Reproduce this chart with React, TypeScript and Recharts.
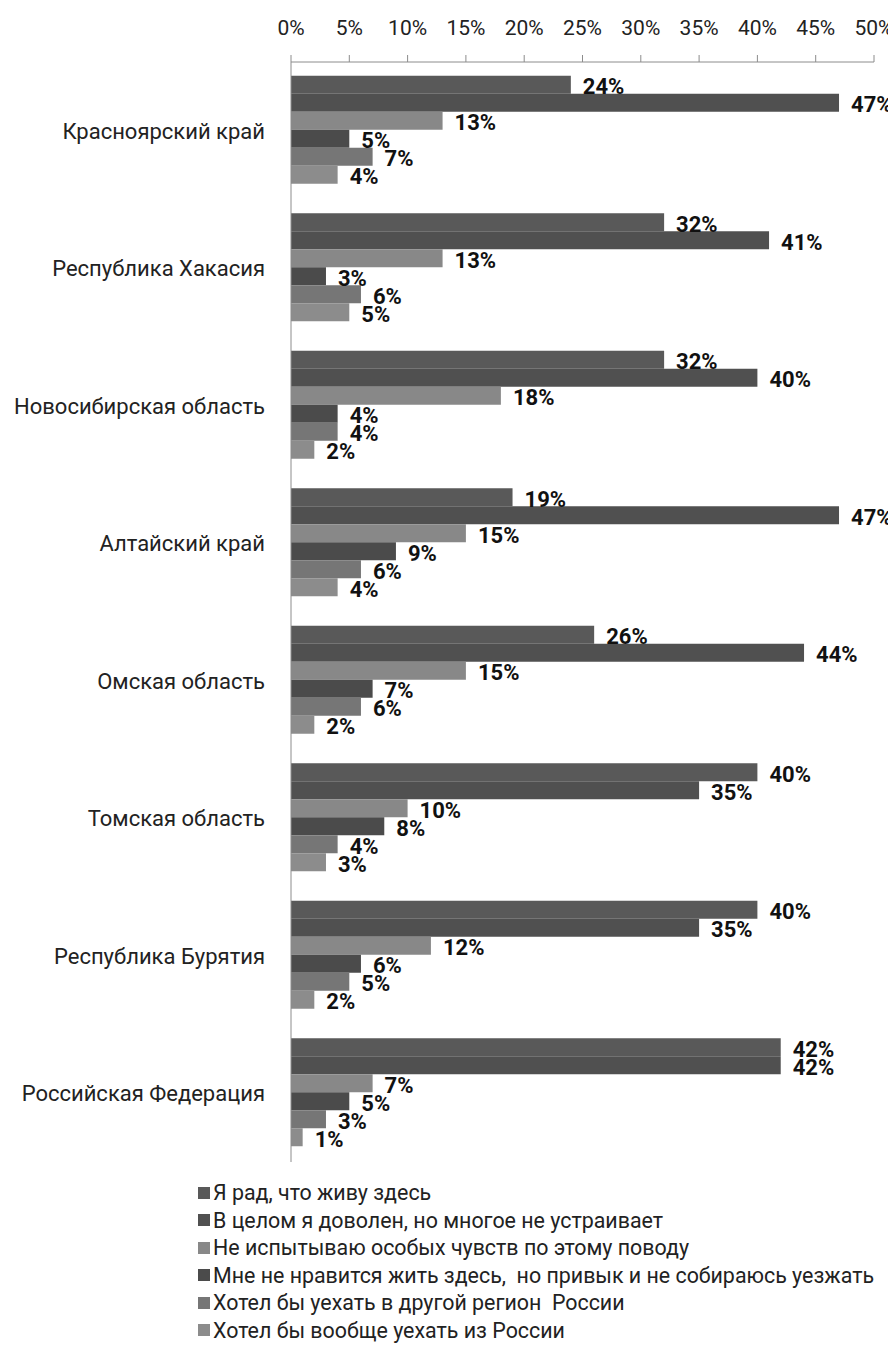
import { BarChart, Bar, XAxis, YAxis, Legend, LabelList } from "recharts";

const FONT = "Roboto, 'DejaVu Sans', sans-serif";

const regions = [
  "Красноярский край",
  "Республика Хакасия",
  "Новосибирская область",
  "Алтайский край",
  "Омская область",
  "Томская область",
  "Республика Бурятия",
  "Российская Федерация",
];

// shares of answers, %
const glad = [24, 32, 32, 19, 26, 40, 40, 42];
const satisfied = [47, 41, 40, 47, 44, 35, 35, 42];
const indifferent = [13, 13, 18, 15, 15, 10, 12, 7];
const usedTo = [5, 3, 4, 9, 7, 8, 6, 5];
const otherRegion = [7, 6, 4, 6, 6, 4, 5, 3];
const abroad = [4, 5, 2, 4, 2, 3, 2, 1];

const seriesNames = [
  "Я рад, что живу здесь",
  "В целом я доволен, но многое не устраивает",
  "Не испытываю особых чувств по этому поводу",
  "Мне не нравится жить здесь,  но привык и не собираюсь уезжать",
  "Хотел бы уехать в другой регион  России",
  "Хотел бы вообще уехать из России",
];
const seriesColors = ["#595959", "#505050", "#888888", "#4b4b4b", "#767676", "#8c8c8c"];

const xTicks = [0, 5, 10, 15, 20, 25, 30, 35, 40, 45, 50];

const seriesValues = [glad, satisfied, indifferent, usedTo, otherRegion, abroad];

const data = regions.map((region, i) => {
  const row: any = { region };
  seriesValues.forEach((vals, s) => {
    row["s" + s] = vals[i];
  });
  return row;
});

const BarLabel = (props: any) => {
  const { x, y, width, height, value } = props;
  return (
    <text
      x={x + width + 12}
      y={y + height / 2 + 2}
      dominantBaseline="central"
      fontFamily={FONT}
      fontSize={22}
      fontWeight={700}
      fill="#111"
    >
      {value}%
    </text>
  );
};

// legend keeps the series order (recharts would sort it by name)
const LegendList = () => (
  <div style={{ fontFamily: FONT, fontSize: 21.4, color: "#222", lineHeight: "27.5px" }}>
    {seriesNames.map((name, i) => (
      <div key={name} style={{ display: "flex", alignItems: "center", whiteSpace: "pre" }}>
        <span
          style={{
            width: 12,
            height: 12,
            background: seriesColors[i],
            marginRight: 3,
            flexShrink: 0,
          }}
        />
        {name}
      </div>
    ))}
  </div>
);

export default function App() {
  return (
    <div style={{ fontFamily: FONT }}>
      <BarChart
        width={888}
        height={1344}
        data={data}
        layout="vertical"
        margin={{ top: 0, right: 22, bottom: 190, left: 0 }}
        barCategoryGap="10%"
        barGap={0}
      >
        <XAxis
          type="number"
          orientation="top"
          domain={[0, 50]}
          ticks={xTicks}
          tickFormatter={(v) => `${v}%`}
          height={54}
          interval={0}
          tickSize={7}
          tickMargin={20}
          axisLine={{ stroke: "#8c8c8c" }}
          tickLine={{ stroke: "#8c8c8c" }}
          tick={{ fill: "#222", fontSize: 21 }}
        />
        <YAxis
          type="category"
          dataKey="region"
          width={283}
          tickLine={false}
          tickMargin={20}
          axisLine={{ stroke: "#8c8c8c" }}
          tick={{ fill: "#222", fontSize: 22 }}
          interval={0}
        />
        <Legend
          layout="vertical"
          align="center"
          verticalAlign="middle"
          content={<LegendList />}
          wrapperStyle={{ left: 190, top: 1171, width: 698 }}
        />
        {seriesNames.map((name, s) => (
          <Bar
            key={name}
            dataKey={"s" + s}
            name={name}
            fill={seriesColors[s]}
            isAnimationActive={false}
          >
            <LabelList dataKey={"s" + s} content={<BarLabel />} />
          </Bar>
        ))}
      </BarChart>
    </div>
  );
}
